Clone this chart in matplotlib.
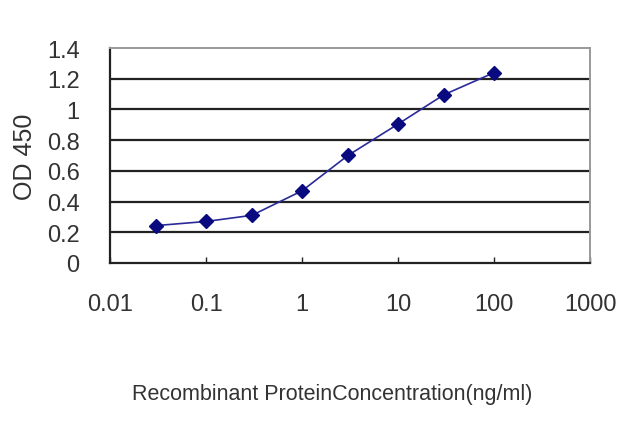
import matplotlib
matplotlib.use("Agg")
import matplotlib.pyplot as plt
from matplotlib.ticker import FixedLocator, NullLocator

# ── data ─────────────────────────────────────────────────────────────────
conc = [0.03, 0.1, 0.3, 1, 3, 10, 30, 100]          # ng/ml
od450 = [0.243, 0.27, 0.31, 0.47, 0.70, 0.905, 1.096, 1.24]
x_ticks = [0.01, 0.1, 1, 10, 100, 1000]
x_labels = ["0.01", "0.1", "1", "10", "100", "1000"]
y_ticks = [0, 0.2, 0.4, 0.6, 0.8, 1, 1.2, 1.4]
y_labels = ["0", "0.2", "0.4", "0.6", "0.8", "1", "1.2", "1.4"]

plt.rcParams["font.family"] = ["Liberation Sans", "DejaVu Sans"]

fig = plt.figure(figsize=(6.4, 4.27), dpi=100)
ax = fig.add_axes([0.172, 0.382, 0.75, 0.503])

# horizontal grid lines (dark) below 1.4, light top line
for y in y_ticks[1:-1]:
    ax.axhline(y, color="#222222", linewidth=1.6, zorder=1)

ax.plot(conc, od450, color="#2a2a9a", linewidth=1.2, marker="D",
        markersize=7, markerfacecolor="#0a0a80", markeredgecolor="#0a0a80",
        zorder=3)

ax.set_xscale("log")
ax.set_xlim(0.01, 1000)
ax.set_ylim(0, 1.4)
ax.xaxis.set_major_locator(FixedLocator(x_ticks))
ax.xaxis.set_minor_locator(NullLocator())
ax.set_xticklabels(x_labels)
ax.set_yticks(y_ticks)
ax.set_yticklabels(y_labels)

ax.tick_params(axis="x", direction="in", length=4, width=1, colors="#222222",
               labelsize=17, pad=22, labelcolor="#333333")
ax.tick_params(axis="y", length=0, labelsize=17, pad=22, labelcolor="#333333")

ax.spines["left"].set_color("#222222")
ax.spines["left"].set_linewidth(1.6)
ax.spines["bottom"].set_color("#222222")
ax.spines["bottom"].set_linewidth(1.6)
ax.spines["top"].set_color("#999999")
ax.spines["top"].set_linewidth(1.4)
ax.spines["right"].set_color("#999999")
ax.spines["right"].set_linewidth(1.4)

ax.set_ylabel("OD 450", fontsize=18, color="#333333")
ax.yaxis.set_label_coords(-0.178, 0.5)
ax.set_xlabel("Recombinant ProteinConcentration(ng/ml)", fontsize=15.5,
              color="#333333")
ax.xaxis.set_label_coords(0.4625, -0.61)
ax.xaxis.label.set_va("center")
ax.yaxis.label.set_va("center")

fig.savefig("out.png", dpi=100)
